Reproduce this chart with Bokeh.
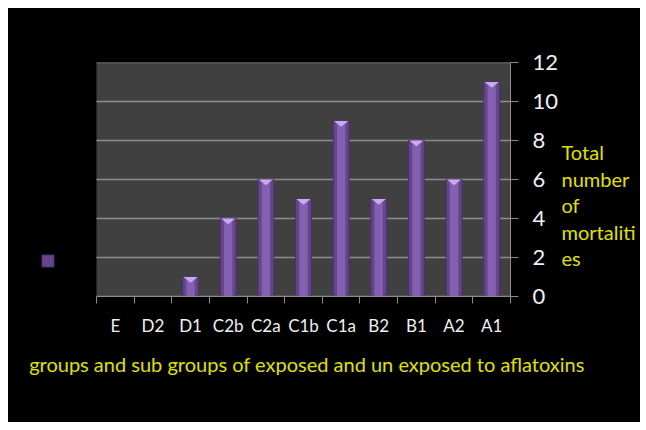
from bokeh.plotting import figure
from bokeh.models import (ColumnDataSource, Range1d, FixedTicker, LinearAxis, Legend,
                          LegendItem, BoxAnnotation)
from bokeh.embed import file_html
from bokeh.resources import INLINE

categories = ["E", "D2", "D1", "C2b", "C2a", "C1b", "C1a", "B2", "B1", "A2", "A1"]
mortalities = [0, 0, 1, 4, 6, 5, 9, 5, 8, 6, 11]
y_ticks = [0, 2, 4, 6, 8, 10, 12]
x_title = "groups and sub groups of exposed and un exposed  to aflatoxins"
y_title_lines = [" Total", "number", "of", "mortaliti", "es"]

FONT = "Lato"
YELLOW = "#e0e000"
GRID = "#8c8c8c"
BAR_FILL = "#65468e"
BAR_LINE = "#4a3169"

n = len(categories)
y_max = y_ticks[-1]
centers = [i + 0.5 for i in range(n)]
bounds = list(range(n + 1))

# layout: the frame also spans the black strip on the left that holds the legend key
plot_px, strip_px = 414, 88
x_start = -n * strip_px / plot_px

p = figure(width=632, height=414, x_range=Range1d(x_start, n), y_range=Range1d(0, y_max),
           y_axis_location="right", output_backend="svg", toolbar_location=None,
           min_border_left=0, min_border_right=130, min_border_top=54, min_border_bottom=126)
p.margin = (8, 0, 0, 8)
p.styles = {"background-color": "black"}
p.background_fill_color = "black"
p.border_fill_color = "black"
p.outline_line_color = None
p.xgrid.visible = False
p.ygrid.visible = False

# grey plot area and its horizontal grid lines
p.add_layout(BoxAnnotation(left=0, right=n, bottom=0, top=y_max, fill_color="#404040",
                           fill_alpha=1, line_color=None, level="underlay"))
p.segment(x0=[0] * len(y_ticks), x1=[n] * len(y_ticks), y0=y_ticks, y1=y_ticks,
          line_color=GRID, line_width=1.5)

src = ColumnDataSource(dict(x=centers, top=mortalities))
r = p.vbar(x="x", top="top", width=0.42, bottom=0, source=src,
           fill_color=BAR_FILL, line_color=BAR_LINE, line_width=1)
p.vbar(x="x", top="top", width=0.22, bottom=0, source=src,
       fill_color="#8361b0", line_color=None)

xs, ys = [], []
for c, v in zip(centers, mortalities):
    if v > 0:
        xs.append([c - 0.19, c + 0.19, c])
        ys.append([v, v, v - 0.3])
p.patches(xs, ys, fill_color="#c9a9ef", line_color=None)

# x axis (category labels, boundary ticks)
xa = p.xaxis[0]
xa.bounds = (0, n)
xa.ticker = FixedTicker(ticks=centers, minor_ticks=bounds)
xa.major_label_overrides = {c: cat for c, cat in zip(centers, categories)}
xa.major_tick_line_color = None
xa.major_tick_out = 0
xa.major_tick_in = 0
xa.minor_tick_line_color = GRID
xa.minor_tick_out = 7
xa.minor_tick_in = 0
xa.axis_line_color = GRID
xa.major_label_text_color = "#f0f0f0"
xa.major_label_text_font = FONT
xa.major_label_text_font_size = "17px"
xa.major_label_standoff = 11

# x title, set as a single label under the category labels
x_title_at = 5.66
xt = LinearAxis(ticker=FixedTicker(ticks=[x_title_at]),
                major_label_overrides={x_title_at: x_title},
                axis_line_color=None, major_tick_line_color=None, minor_tick_line_color=None,
                major_tick_out=0, major_tick_in=0, major_label_standoff=13,
                major_label_text_color=YELLOW, major_label_text_font=FONT,
                major_label_text_font_size="20px")
p.add_layout(xt, "below")

# y axis (right)
ya = p.yaxis[0]
ya.ticker = FixedTicker(ticks=y_ticks)
ya.major_tick_out = 8
ya.major_tick_in = 0
ya.major_tick_line_color = GRID
ya.minor_tick_line_color = None
ya.axis_line_color = GRID
ya.major_label_text_color = "#f0f0f0"
ya.major_label_text_font = FONT
ya.major_label_text_font_size = "22px"
ya.major_label_standoff = 14

# y-axis title, one line per row, set beside the tick labels
title_top, title_step = 7.4, 1.36
title_pos = [title_top - title_step * i for i in range(len(y_title_lines))]
ttl = LinearAxis(ticker=FixedTicker(ticks=title_pos),
                 major_label_overrides={t: s for t, s in zip(title_pos, y_title_lines)},
                 axis_line_color=None, major_tick_line_color=None, minor_tick_line_color=None,
                 major_tick_out=0, major_tick_in=0, major_label_standoff=0,
                 major_label_text_color=YELLOW, major_label_text_font=FONT,
                 major_label_text_font_size="20px")
p.add_layout(ttl, "right")

legend = Legend(items=[LegendItem(label=" ", renderers=[r])], location=(32, 28),
                glyph_width=15, glyph_height=15, background_fill_alpha=0,
                border_line_color=None, padding=0, margin=0,
                label_standoff=0, label_text_font_size="1px")
p.add_layout(legend)

open("out.html", "w").write(file_html(p, INLINE))
